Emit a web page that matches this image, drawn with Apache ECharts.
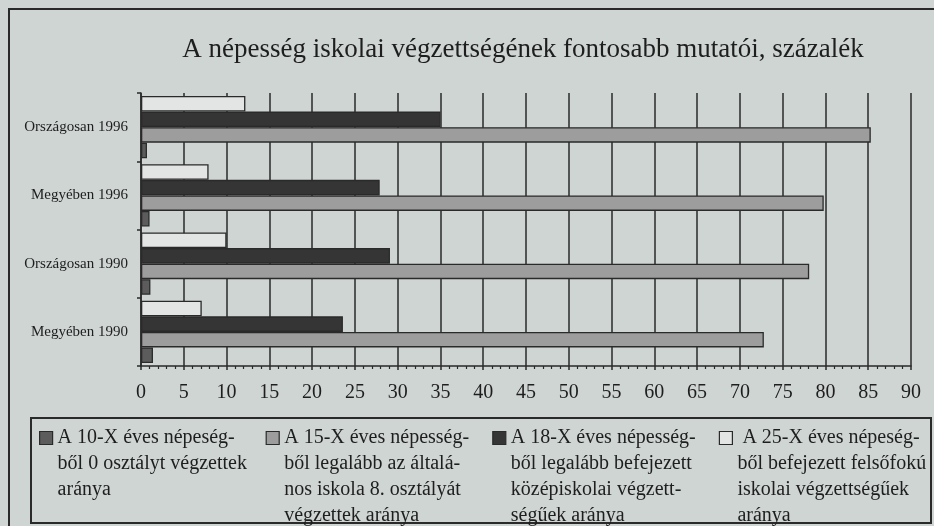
<!DOCTYPE html>
<html>
<head>
<meta charset="utf-8">
<script src="https://cdn.jsdelivr.net/npm/echarts@6/dist/echarts.min.js"></script>
<style>
html,body{margin:0;padding:0;background:#cfd5d2;}
#c{width:934px;height:526px;}
</style>
</head>
<body>
<div id="c"></div>
<script>
// Categories listed bottom to top (category axis runs upward)
const categories = ['Megyében 1990', 'Országosan 1990', 'Megyében 1996', 'Országosan 1996'];
const seriesNames = ['10-X', '15-X', '18-X', '25-X'];
const legendTexts = [
  'A 10-X éves népeség-\nből 0 osztályt végzettek\naránya',
  'A 15-X éves népesség-\nből legalább az általá-\nnos iskola 8. osztályát\nvégzettek aránya',
  'A 18-X éves népesség-\nből legalább befejezett\nközépiskolai végzett-\nségűek aránya',
  ' A 25-X éves népeség-\nből befejezett felsőfokú\niskolai végzettségűek\naránya'
];
const values10 = [1.4, 1.1, 1.0, 0.7];
const values15 = [72.8, 78.1, 79.8, 85.3];
const values18 = [23.6, 29.1, 27.9, 35.0];
const values25 = [7.1, 10.0, 7.9, 12.2];
const xTicks = [0, 90, 5];
const titleText = 'A népesség iskolai végzettségének fontosabb mutatói, százalék';

const colors = ['#5c5c5c', '#9d9d9d', '#353535', '#e2e5e3'];
const allValues = [values10, values15, values18, values25];
const font = 'Liberation Serif';
const LH = 26;

// Prepend blank lines so the first text line sits level with the legend icon
function legendLabel(name) {
  const t = legendTexts[seriesNames.indexOf(name)];
  const n = t.split('\n').length;
  return '\n'.repeat(n - 1) + t;
}

// series drawn top-first within each group: 25-X, 18-X, 15-X, 10-X
const order = [3, 2, 1, 0];

const chart = echarts.init(document.getElementById('c'));
chart.setOption({
  backgroundColor: '#cfd5d2',
  animation: false,
  title: {
    text: titleText,
    left: 518, top: 31, textAlign: 'center',
    textStyle: {fontFamily: font, fontSize: 27, fontWeight: 'normal', color: '#1e1e1e'}
  },
  graphic: [
    {type: 'rect', shape: {x: 9, y: 9, width: 940, height: 540},
     style: {fill: 'none', stroke: '#2a2a2a', lineWidth: 2}, silent: true, z: -1},
    {type: 'rect', shape: {x: 31, y: 418, width: 900, height: 105},
     style: {fill: 'none', stroke: '#2a2a2a', lineWidth: 2}, silent: true, z: -1}
  ],
  legend: {
    left: 39, top: 438 - 3.5 * LH, padding: 0, width: 895,
    itemWidth: 13, itemHeight: 13, itemGap: 12,
    icon: 'rect',
    itemStyle: {borderColor: '#2a2a2a', borderWidth: 1.2},
    data: seriesNames,
    formatter: legendLabel,
    textStyle: {fontFamily: font, fontSize: 20, color: '#1e1e1e', lineHeight: LH, width: 196, align: 'left'}
  },
  grid: {left: 141, right: 23, top: 93, bottom: 160, containLabel: false},
  xAxis: {
    type: 'value', min: xTicks[0], max: xTicks[1], interval: xTicks[2],
    axisLine: {show: true, lineStyle: {color: '#2a2a2a', width: 1.5}},
    axisTick: {show: true, length: 4, lineStyle: {color: '#2a2a2a', width: 1.5}},
    minorTick: {show: true, splitNumber: 5, length: 3, lineStyle: {color: '#2a2a2a', width: 1.2}},
    splitLine: {show: true, lineStyle: {color: '#2a2a2a', width: 1.5}},
    axisLabel: {fontFamily: font, fontSize: 20, color: '#1e1e1e', margin: 17}
  },
  yAxis: {
    type: 'category', data: categories,
    axisLine: {show: true, lineStyle: {color: '#2a2a2a', width: 1.5}},
    axisTick: {show: true, length: 4, lineStyle: {color: '#2a2a2a', width: 1.5}},
    axisLabel: {fontFamily: font, fontSize: 15, color: '#1e1e1e', margin: 13}
  },
  series: order.map(i => ({
    name: seriesNames[i], type: 'bar', data: allValues[i],
    barGap: '0%', barCategoryGap: '9%',
    itemStyle: {color: colors[i], borderColor: '#2a2a2a', borderWidth: 1.3}
  }))
});
</script>
</body>
</html>
